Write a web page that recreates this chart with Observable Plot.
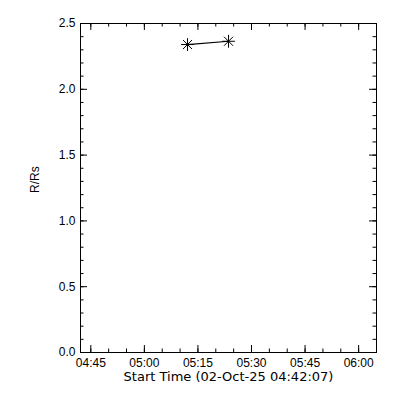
<!DOCTYPE html>
<html>
<head>
<meta charset="utf-8">
<script src="https://cdn.jsdelivr.net/npm/d3@7"></script>
<script src="https://cdn.jsdelivr.net/npm/@observablehq/plot@0.6"></script>
<style>
  html, body { margin: 0; padding: 0; background: #fff; }
  #chart svg { display: block; }
</style>
</head>
<body>
<div id="chart"></div>
<script>
// Data
const times = ["2025-10-02T05:12:05Z", "2025-10-02T05:23:34Z"];
const heights = [2.34, 2.365];
const xDomain = ["2025-10-02T04:42:07Z", "2025-10-02T06:05:00Z"];
const yDomain = [0, 2.5];
const xMajorTicks = ["04:45", "05:00", "05:15", "05:30", "05:45", "06:00"];
const yMajorTicks = [0, 0.5, 1.0, 1.5, 2.0, 2.5];
const xLabel = "Start Time (02-Oct-25 04:42:07)";
const yLabel = "R/Rs";

const toDate = s => new Date(s);
const data = times.map((t, i) => ({t: toDate(t), r: heights[i]}));
const xMaj = xMajorTicks.map(s => new Date(`2025-10-02T${s}:00Z`));
const xMin = d3.utcMinute.every(5).range(new Date("2025-10-02T04:45:00Z"), new Date("2025-10-02T06:05:01Z"));
const yMin = d3.range(0, 26).map(i => i / 10);

const W = 400, H = 400, mt = 23, mb = 48, ml = 80, mr = 24;
const fh = H - mt - mb, fw = W - ml - mr;
const font = "Liberation Sans, Arial, sans-serif";
const wideFont = "DejaVu Sans, Verdana, sans-serif";

const chart = Plot.plot({
  width: W, height: H,
  marginTop: mt, marginBottom: mb, marginLeft: ml, marginRight: mr,
  style: {fontFamily: font, fontSize: "12px", color: "#000", background: "#fff"},
  x: {type: "utc", domain: xDomain.map(toDate)},
  y: {domain: yDomain},
  marks: [
    // minor ticks
    Plot.tickX(xMin, {x: d => d, insetTop: fh - 3.5, stroke: "black"}),
    Plot.tickX(xMin, {x: d => d, insetBottom: fh - 3.5, stroke: "black"}),
    Plot.tickY(yMin, {y: d => d, insetRight: fw - 3.5, stroke: "black"}),
    Plot.tickY(yMin, {y: d => d, insetLeft: fw - 3.5, stroke: "black"}),
    // major ticks
    Plot.tickX(xMaj, {x: d => d, insetTop: fh - 7, stroke: "black"}),
    Plot.tickX(xMaj, {x: d => d, insetBottom: fh - 7, stroke: "black"}),
    Plot.tickY(yMajorTicks, {y: d => d, insetRight: fw - 7, stroke: "black"}),
    Plot.tickY(yMajorTicks, {y: d => d, insetLeft: fw - 7, stroke: "black"}),
    Plot.axisX(xMaj, {anchor: "bottom", tickSize: 0, tickPadding: 6, tickFormat: d3.utcFormat("%H:%M"), label: null, fontSize: 12, fill: "black"}),
    Plot.axisY(yMajorTicks, {anchor: "left", tickSize: 0, tickPadding: 5, tickFormat: d3.format(".1f"), label: null, fontSize: 12, fill: "black"}),
    Plot.text([xLabel], {frameAnchor: "bottom", dy: 28, text: d => d, fontSize: 13, fontFamily: wideFont, fill: "black"}),
    Plot.text([yLabel], {frameAnchor: "left", dx: -45, dy: 5, rotate: -90, text: d => d, fontSize: 12, fill: "black"}),
    Plot.frame({stroke: "black"}),
    Plot.line(data, {x: "t", y: "r", stroke: "black", strokeWidth: 1.2}),
    Plot.dot(data, {x: "t", y: "r", symbol: "plus", r: 4.2, stroke: "black", strokeWidth: 1}),
    Plot.dot(data, {x: "t", y: "r", symbol: "times", r: 4.2, stroke: "black", strokeWidth: 1})
  ]
});
document.getElementById("chart").appendChild(chart);
</script>
</body>
</html>
